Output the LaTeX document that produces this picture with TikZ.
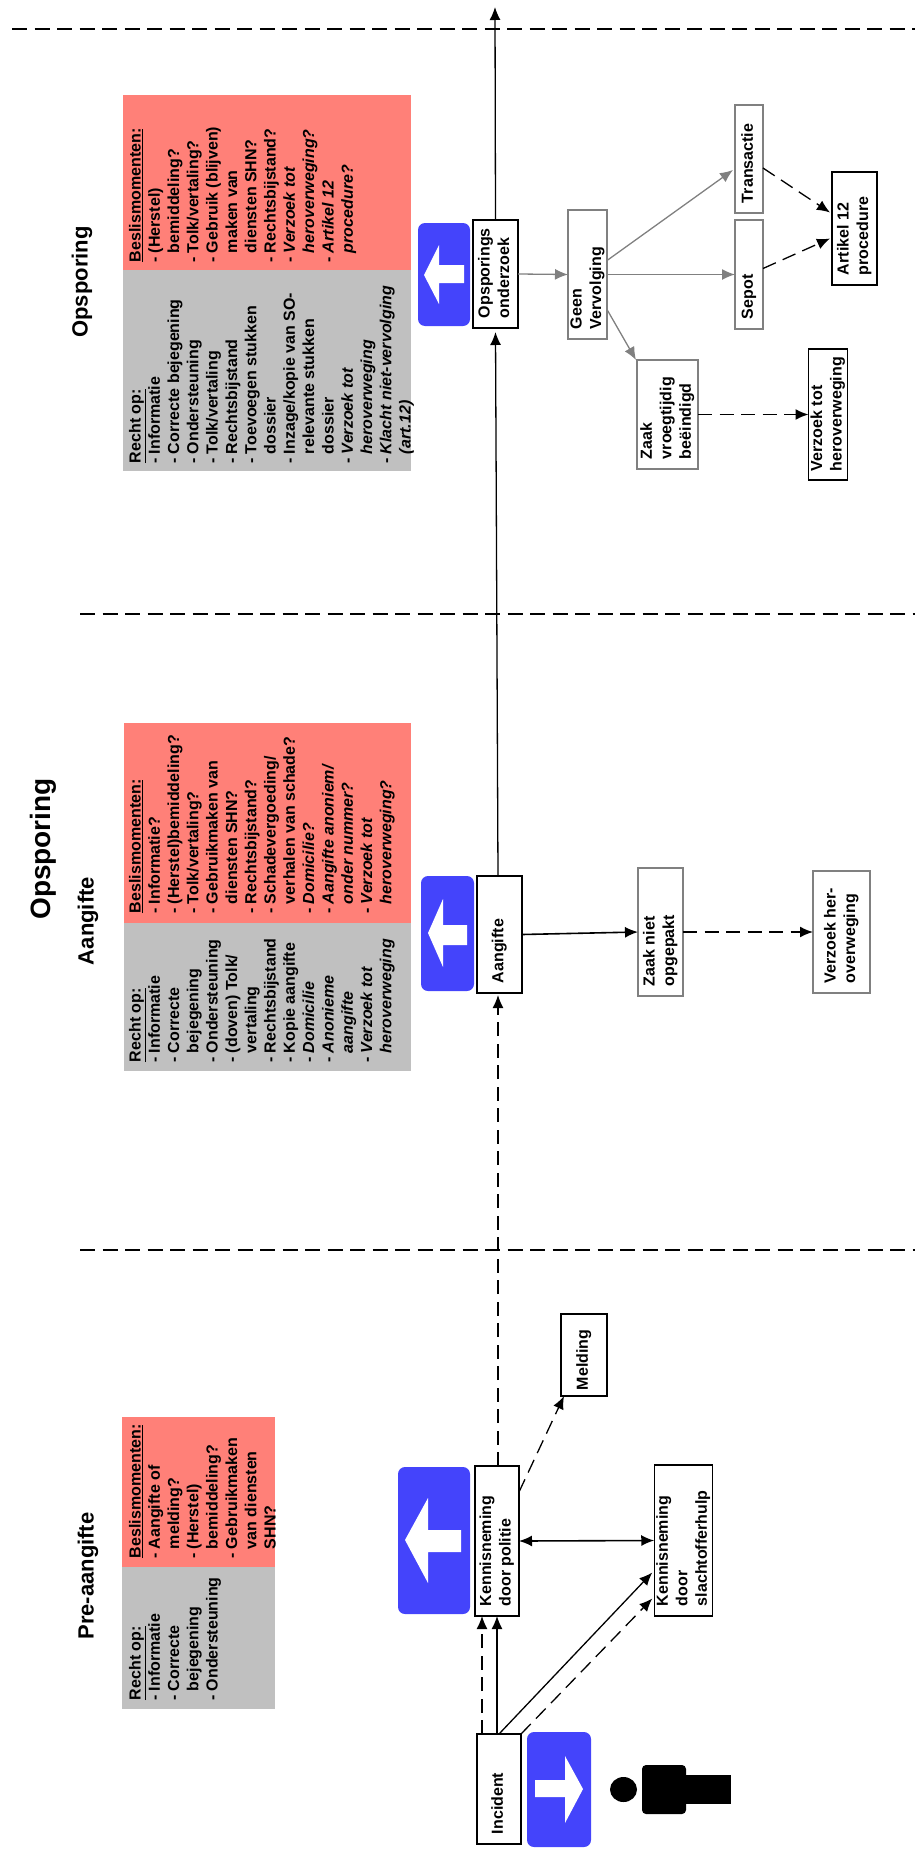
\documentclass[tikz,border=0pt]{standalone}
\usepackage{fontspec}
\setmainfont{Liberation Sans}
\usetikzlibrary{arrows.meta}
\definecolor{pgray}{HTML}{C0C0C0}
\definecolor{pred}{HTML}{FF8078}
\definecolor{pblue}{HTML}{4444FB}
\definecolor{bgray}{HTML}{808080}
\newcommand\dd{\makebox[9pt][l]{-}}
\newcommand\ii{\hspace*{9pt}}
\newcommand\ul[1]{\underline{#1}}
\newcommand\boxtxt[2]{\rotatebox{90}{\makebox[#1pt][l]{\fontsize{16}{19.5}\selectfont\bfseries\begin{tabular}{@{}l@{}}#2\end{tabular}}}}
\newcommand\paneltxt[1]{\rotatebox{90}{\fontsize{16}{19.3}\selectfont\bfseries\begin{tabular}[t]{@{}l@{}}#1\end{tabular}}}
\tikzset{
  bx/.style={draw=black,line width=1.2pt,fill=white,inner sep=0pt,outer sep=0pt},
  gbx/.style={bx,draw=bgray,line width=2.2pt},
  panel/.style={anchor=south west,inner sep=0pt,outer sep=0pt},
  ttl/.style={inner sep=0pt,rotate=90,font=\fontsize{22}{24}\selectfont\bfseries},
  conn/.style={line width=1.3pt,-{Latex[length=13pt,width=11pt]}},
  dconn/.style={conn,dash pattern=on 14pt off 7.5pt},
  gconn/.style={conn,color=bgray,-{Latex[length=13pt,width=11pt]}},
  sepline/.style={line width=1.3pt,dash pattern=on 15pt off 7.5pt},
  sign/.style={fill=pblue,rounded corners=7pt},
}
\begin{document}
\begin{tikzpicture}[x=1pt,y=-1pt]
\useasboundingbox (0,0) rectangle (915,1849);
% separators
\draw[sepline] (12,29) -- (915,29);
\draw[sepline] (80,614) -- (915,614);
\draw[sepline] (80,1250) -- (915,1250);
% titles
\node[inner sep=0pt,rotate=90,font=\fontsize{28}{30}\selectfont\bfseries] (tmain) at (43,849) {Opsporing};
\node[ttl] (tpre) at (88,1576) {Pre-aangifte};
\node[ttl] (taan) at (88,921) {Aangifte};
\node[ttl] (tops) at (82,282) {Opsporing};
% panels
\fill[pred] (122,1417) rectangle (275,1567);
\fill[pgray] (122,1567) rectangle (275,1709);
\fill[pred] (124,723) rectangle (411,923);
\fill[pgray] (124,923) rectangle (411,1071);
\fill[pred] (123,95) rectangle (411,270);
\fill[pgray] (123,270) rectangle (411,471);
\node[panel] (p1) at (127,1700) {\paneltxt{\ul{Recht op:}\\\dd Informatie\\\dd Correcte\\\ii bejegening\\\dd Ondersteuning}};
\node[panel] (p2) at (127,1558) {\paneltxt{\ul{Beslismomenten:}\\\dd Aangifte of\\\ii melding?\\\dd (Herstel)\\\ii bemiddeling?\\\dd Gebruikmaken\\\ii van diensten\\\ii SHN?}};
\node[panel] (p3) at (127,1062) {\paneltxt{\ul{Recht op:}\\\dd Informatie\\\dd Correcte\\\ii bejegening\\\dd Ondersteuning\\\dd (doven) Tolk/\\\ii vertaling\\\dd Rechtsbijstand\\\dd Kopie aangifte\\\dd \itshape Domicilie\\\dd \itshape Anonieme\\\ii \itshape aangifte\\\dd \itshape Verzoek tot\\\ii \itshape heroverweging}};
\node[panel] (p4) at (127,913) {\paneltxt{\ul{Beslismomenten:}\\\dd Informatie?\\\dd (Herstel)bemiddeling?\\\dd Tolk/vertaling?\\\dd Gebruikmaken van\\\ii diensten SHN?\\\dd Rechtsbijstand?\\\dd Schadevergoeding/\\\ii verhalen van schade?\\\dd \itshape Domicilie?\\\dd \itshape Aangifte anoniem/\\\ii \itshape onder nummer?\\\dd \itshape Verzoek tot\\\ii \itshape heroverweging?}};
\node[panel] (p5) at (127,463) {\paneltxt{\ul{Recht op:}\\\dd Informatie\\\dd Correcte bejegening\\\dd Ondersteuning\\\dd Tolk/vertaling\\\dd Rechtsbijstand\\\dd Toevoegen stukken\\\ii dossier\\\dd Inzage/kopie van SO-\\\ii relevante stukken\\\ii dossier\\\dd \itshape Verzoek tot\\\ii \itshape heroverweging\\\dd \itshape Klacht niet-vervolging\\\ii \itshape (art.12)}};
\node[panel] (p6) at (127,262) {\paneltxt{\ul{Beslismomenten:}\\\dd (Herstel)\\\ii bemiddeling?\\\dd Tolk/vertaling?\\\dd Gebruik (blijven)\\\ii maken van\\\ii diensten SHN?\\\dd Rechtsbijstand?\\\dd \itshape Verzoek tot\\\ii \itshape heroverweging?\\\dd \itshape Artikel 12\\\ii \itshape procedure?}};
% blue signs
\fill[sign] (398,1467) rectangle (470,1614);
\fill[sign] (527,1732) rectangle (591,1847);
\fill[sign] (421,876) rectangle (474,991);
\fill[sign] (418,223) rectangle (470,326);
\fill[white] (405,1540) -- (428,1498) -- (428,1530) -- (461,1530) -- (461,1552) -- (428,1552) -- (428,1583) -- cycle;
\fill[white] (583,1789) -- (565,1756) -- (565,1780) -- (535,1780) -- (535,1797) -- (565,1797) -- (565,1823) -- cycle;
\fill[white] (428,933) -- (443,899) -- (443,925) -- (467,925) -- (467,945) -- (443,945) -- (443,967) -- cycle;
\fill[white] (424,275) -- (439,245) -- (439,265) -- (464,265) -- (464,283) -- (439,283) -- (439,304) -- cycle;
% person
\fill[black] (623.5,1789.5) ellipse (13.5 and 12.5);
\fill[black,rounded corners=4pt] (642,1765) rectangle (686,1814);
\fill[black] (680,1775) rectangle (731,1804);
% boxes
\node[bx,minimum width=44pt,minimum height=110pt] (inc) at (499,1789) {\boxtxt{90}{Incident}};
\node[bx,minimum width=44pt,minimum height=150pt] (kpol) at (497,1541) {\boxtxt{130}{Kennisneming\\door politie}};
\node[bx,minimum width=57pt,minimum height=151pt] (kslo) at (683.5,1540.5) {\boxtxt{131}{Kennisneming\\door\\slachtofferhulp}};
\node[bx,minimum width=46pt,minimum height=82pt] (meld) at (584,1355) {\boxtxt{70}{Melding}};
\node[bx,minimum width=45pt,minimum height=117pt] (aang) at (499.5,934.5) {\boxtxt{97}{Aangifte}};
\node[gbx,minimum width=45pt,minimum height=128pt] (znie) at (660.5,932) {\boxtxt{108}{Zaak niet\\opgepakt}};
\node[gbx,minimum width=57pt,minimum height=122pt] (vher) at (841.5,932) {\boxtxt{102}{Verzoek her-\\overweging}};
\node[bx,minimum width=45pt,minimum height=108pt] (oond) at (495.5,274) {\boxtxt{88}{Opsporings\\onderzoek}};
\node[gbx,minimum width=39pt,minimum height=129pt] (geen) at (587.5,274.5) {\boxtxt{109}{Geen\\Vervolging}};
\node[gbx,minimum width=28pt,minimum height=108pt] (tran) at (749,159) {\boxtxt{88}{Transactie}};
\node[gbx,minimum width=28pt,minimum height=109pt] (sepo) at (749,274.5) {\boxtxt{89}{Sepot}};
\node[bx,minimum width=45pt,minimum height=113pt] (art) at (854.5,228.5) {\boxtxt{93}{Artikel 12\\procedure}};
\node[gbx,minimum width=61pt,minimum height=109pt] (zvro) at (667.5,414.5) {\boxtxt{89}{Zaak\\vroegtijdig\\beëindigd}};
\node[bx,minimum width=38pt,minimum height=131pt] (vtot) at (828,414.5) {\boxtxt{113}{Verzoek tot\\heroverweging}};
\coordinate (exit) at (495,7);
% connectors
\draw[conn] ([xshift=-2pt]inc.north) -- (kpol.south);
\draw[dconn] ([xshift=-17pt]inc.north) -- ([xshift=-15pt]kpol.south);
\draw[conn] (inc.north) -- ([shift={(-2pt,-32pt)}]kslo.west);
\draw[dconn] (inc.north east) -- ([shift={(-2pt,-58pt)}]kslo.west);
\draw[conn,{Latex[length=13pt,width=11pt]}-{Latex[length=13pt,width=11pt]},line width=1.6pt] (kpol.east) -- (kslo.west);
\draw[dconn] ([yshift=49pt]kpol.east) -- ([xshift=-20pt]meld.south);
\draw[dconn] ([xshift=1pt]kpol.north) -- ([yshift=-2pt,xshift=-1.5pt]aang.south);
\draw[conn] ([xshift=-1.5pt]aang.north) -- ([yshift=-4pt]oond.south);
\draw[conn] (oond.north) -- (exit);
\draw[conn,line width=1.6pt] (aang.east) -- (znie.west);
\draw[dconn,line width=1.6pt] (znie.east) -- (vher.west);
\draw[gconn] (oond.east) -- (geen.west);
\draw[gconn] (geen.east) -- (sepo.west);
\draw[gconn] ([yshift=14pt]geen.east) -- ([shift={(-2pt,-11pt)}]tran.west);
\draw[gconn] ([yshift=-35pt]geen.east) -- ([xshift=-31.5pt]zvro.north);
\draw[dconn] ([yshift=-9pt]tran.east) -- ([shift={(-2pt,16pt)}]art.west);
\draw[dconn] ([yshift=6pt]sepo.east) -- ([shift={(-2pt,-10pt)}]art.west);
\draw[dconn,line width=1.6pt] (zvro.east) -- (vtot.west);
\end{tikzpicture}
\end{document}
